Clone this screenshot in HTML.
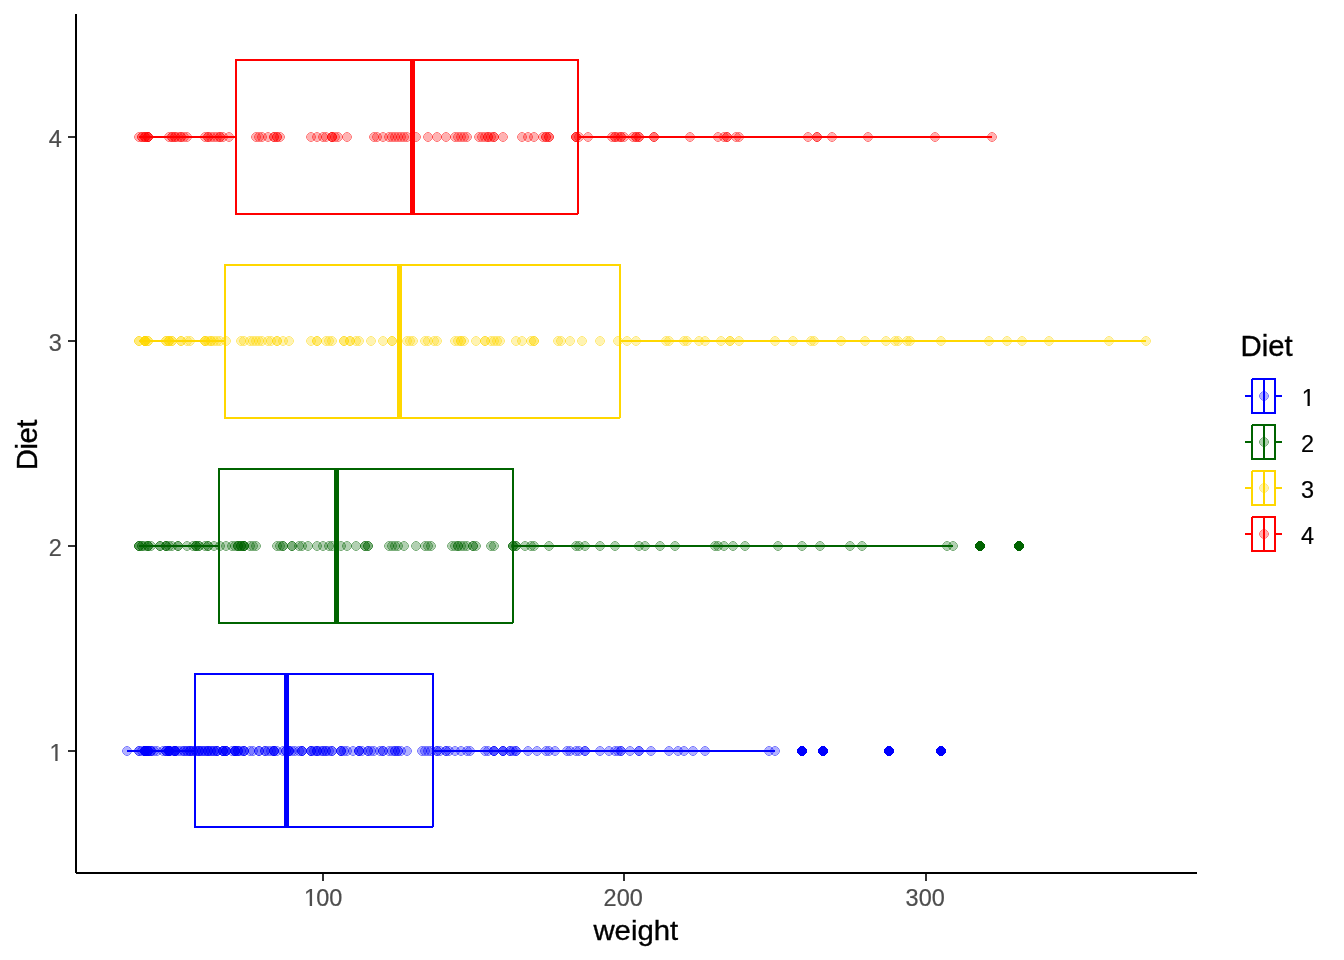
<!DOCTYPE html>
<html lang="en"><head><meta charset="utf-8"><title>ChickWeight boxplot</title>
<style>html,body{margin:0;padding:0;background:#fff}svg{display:block}text{font-family:"Liberation Sans",Arial,sans-serif}.t{font-size:23.47px;fill:#4D4D4D;stroke:#4D4D4D;stroke-width:.2px}.l{font-size:23.47px;fill:#000;stroke:#000;stroke-width:.2px}.h{font-size:29.33px;fill:#000;stroke:#000;stroke-width:.35px}</style></head><body>
<svg width="1344" height="960" viewBox="0 0 1344 960">
<rect width="1344" height="960" fill="#fff"/>
<defs>
<g id="p1" fill="#0000FF" fill-opacity=".3"><path d="M-1,-5h2v1h2v1h1v2h1v2h-1v2h-1v1h-2v1h-2v-1h-2v-1h-1v-2h-1v-2h1v-2h1v-1h2z"/><path fill-rule="evenodd" d="M-2,-5h4v1h1v1h1v1h1v4h-1v1h-1v1h-1v1h-4v-1h-1v-1h-1v-1h-1v-4h1v-1h1v-1h1zM-2,-4h4v1h1v1h1v4h-1v1h-1v1h-4v-1h-1v-1h-1v-4h1v-1h1z"/></g>
<g id="p2" fill="#006400" fill-opacity=".3"><path d="M-1,-5h2v1h2v1h1v2h1v2h-1v2h-1v1h-2v1h-2v-1h-2v-1h-1v-2h-1v-2h1v-2h1v-1h2z"/><path fill-rule="evenodd" d="M-2,-5h4v1h1v1h1v1h1v4h-1v1h-1v1h-1v1h-4v-1h-1v-1h-1v-1h-1v-4h1v-1h1v-1h1zM-2,-4h4v1h1v1h1v4h-1v1h-1v1h-4v-1h-1v-1h-1v-4h1v-1h1z"/></g>
<g id="p3" fill="#FFD700" fill-opacity=".3"><path d="M-1,-5h2v1h2v1h1v2h1v2h-1v2h-1v1h-2v1h-2v-1h-2v-1h-1v-2h-1v-2h1v-2h1v-1h2z"/><path fill-rule="evenodd" d="M-2,-5h4v1h1v1h1v1h1v4h-1v1h-1v1h-1v1h-4v-1h-1v-1h-1v-1h-1v-4h1v-1h1v-1h1zM-2,-4h4v1h1v1h1v4h-1v1h-1v1h-4v-1h-1v-1h-1v-4h1v-1h1z"/></g>
<g id="p4" fill="#FF0000" fill-opacity=".3"><path d="M-1,-5h2v1h2v1h1v2h1v2h-1v2h-1v1h-2v1h-2v-1h-2v-1h-1v-2h-1v-2h1v-2h1v-1h2z"/><path fill-rule="evenodd" d="M-2,-5h4v1h1v1h1v1h1v4h-1v1h-1v1h-1v1h-4v-1h-1v-1h-1v-1h-1v-4h1v-1h1v-1h1zM-2,-4h4v1h1v1h1v4h-1v1h-1v1h-4v-1h-1v-1h-1v-4h1v-1h1z"/></g>
</defs>
<g shape-rendering="crispEdges">
<path transform="translate(889,751)" d="M-2,-5h4v1h1v1h1v1h1v4h-1v1h-1v1h-1v1h-4v-1h-1v-1h-1v-1h-1v-4h1v-1h1v-1h1z" fill="#0000FF"/>
<path transform="translate(941,751)" d="M-2,-5h4v1h1v1h1v1h1v4h-1v1h-1v1h-1v1h-4v-1h-1v-1h-1v-1h-1v-4h1v-1h1v-1h1z" fill="#0000FF"/>
<path transform="translate(802,751)" d="M-2,-5h4v1h1v1h1v1h1v4h-1v1h-1v1h-1v1h-4v-1h-1v-1h-1v-1h-1v-4h1v-1h1v-1h1z" fill="#0000FF"/>
<path transform="translate(823,751)" d="M-2,-5h4v1h1v1h1v1h1v4h-1v1h-1v1h-1v1h-4v-1h-1v-1h-1v-1h-1v-4h1v-1h1v-1h1z" fill="#0000FF"/>
<rect x="127" y="750" width="68" height="2" fill="#0000FF"/>
<rect x="433" y="750" width="342" height="2" fill="#0000FF"/>
<rect x="195" y="674" width="238" height="153" fill="#fff" stroke="#0000FF" stroke-width="2"/>
<rect x="433" y="827" width="1" height="1" fill="#fff"/>
<rect x="284" y="673" width="5" height="155" fill="#0000FF"/>
<path transform="translate(980,546)" d="M-2,-5h4v1h1v1h1v1h1v4h-1v1h-1v1h-1v1h-4v-1h-1v-1h-1v-1h-1v-4h1v-1h1v-1h1z" fill="#006400"/>
<path transform="translate(1019,546)" d="M-2,-5h4v1h1v1h1v1h1v4h-1v1h-1v1h-1v1h-4v-1h-1v-1h-1v-1h-1v-4h1v-1h1v-1h1z" fill="#006400"/>
<rect x="139" y="545" width="80" height="2" fill="#006400"/>
<rect x="513" y="545" width="440" height="2" fill="#006400"/>
<rect x="219" y="469" width="294" height="154" fill="#fff" stroke="#006400" stroke-width="2"/>
<rect x="513" y="623" width="1" height="1" fill="#fff"/>
<rect x="334" y="468" width="5" height="156" fill="#006400"/>
<rect x="139" y="340" width="86" height="2" fill="#FFD700"/>
<rect x="620" y="340" width="526" height="2" fill="#FFD700"/>
<rect x="225" y="265" width="395" height="153" fill="#fff" stroke="#FFD700" stroke-width="2"/>
<rect x="620" y="418" width="1" height="1" fill="#fff"/>
<rect x="397" y="264" width="5" height="155" fill="#FFD700"/>
<rect x="139" y="136" width="97" height="2" fill="#FF0000"/>
<rect x="578" y="136" width="414" height="2" fill="#FF0000"/>
<rect x="236" y="60" width="342" height="154" fill="#fff" stroke="#FF0000" stroke-width="2"/>
<rect x="578" y="214" width="1" height="1" fill="#fff"/>
<rect x="410" y="59" width="5" height="156" fill="#FF0000"/>
</g>
<g shape-rendering="crispEdges">
<use href="#p1" x="148" y="751"/>
<use href="#p1" x="175" y="751"/>
<use href="#p1" x="199" y="751"/>
<use href="#p1" x="214" y="751"/>
<use href="#p1" x="250" y="751"/>
<use href="#p1" x="302" y="751"/>
<use href="#p1" x="341" y="751"/>
<use href="#p1" x="398" y="751"/>
<use href="#p1" x="470" y="751"/>
<use href="#p1" x="537" y="751"/>
<use href="#p1" x="621" y="751"/>
<use href="#p1" x="639" y="751"/>
<use href="#p1" x="142" y="751"/>
<use href="#p1" x="169" y="751"/>
<use href="#p1" x="196" y="751"/>
<use href="#p1" x="238" y="751"/>
<use href="#p1" x="274" y="751"/>
<use href="#p1" x="332" y="751"/>
<use href="#p1" x="389" y="751"/>
<use href="#p1" x="437" y="751"/>
<use href="#p1" x="510" y="751"/>
<use href="#p1" x="585" y="751"/>
<use href="#p1" x="651" y="751"/>
<use href="#p1" x="669" y="751"/>
<use href="#p1" x="151" y="751"/>
<use href="#p1" x="139" y="751"/>
<use href="#p1" x="187" y="751"/>
<use href="#p1" x="223" y="751"/>
<use href="#p1" x="274" y="751"/>
<use href="#p1" x="320" y="751"/>
<use href="#p1" x="368" y="751"/>
<use href="#p1" x="437" y="751"/>
<use href="#p1" x="513" y="751"/>
<use href="#p1" x="585" y="751"/>
<use href="#p1" x="618" y="751"/>
<use href="#p1" x="630" y="751"/>
<use href="#p1" x="148" y="751"/>
<use href="#p1" x="169" y="751"/>
<use href="#p1" x="190" y="751"/>
<use href="#p1" x="223" y="751"/>
<use href="#p1" x="244" y="751"/>
<use href="#p1" x="283" y="751"/>
<use href="#p1" x="329" y="751"/>
<use href="#p1" x="347" y="751"/>
<use href="#p1" x="431" y="751"/>
<use href="#p1" x="485" y="751"/>
<use href="#p1" x="503" y="751"/>
<use href="#p1" x="494" y="751"/>
<use href="#p1" x="145" y="751"/>
<use href="#p1" x="148" y="751"/>
<use href="#p1" x="166" y="751"/>
<use href="#p1" x="202" y="751"/>
<use href="#p1" x="259" y="751"/>
<use href="#p1" x="341" y="751"/>
<use href="#p1" x="446" y="751"/>
<use href="#p1" x="516" y="751"/>
<use href="#p1" x="615" y="751"/>
<use href="#p1" x="621" y="751"/>
<use href="#p1" x="684" y="751"/>
<use href="#p1" x="693" y="751"/>
<use href="#p1" x="145" y="751"/>
<use href="#p1" x="169" y="751"/>
<use href="#p1" x="199" y="751"/>
<use href="#p1" x="244" y="751"/>
<use href="#p1" x="314" y="751"/>
<use href="#p1" x="395" y="751"/>
<use href="#p1" x="446" y="751"/>
<use href="#p1" x="467" y="751"/>
<use href="#p1" x="488" y="751"/>
<use href="#p1" x="503" y="751"/>
<use href="#p1" x="503" y="751"/>
<use href="#p1" x="494" y="751"/>
<use href="#p1" x="145" y="751"/>
<use href="#p1" x="169" y="751"/>
<use href="#p1" x="193" y="751"/>
<use href="#p1" x="235" y="751"/>
<use href="#p1" x="289" y="751"/>
<use href="#p1" x="359" y="751"/>
<use href="#p1" x="461" y="751"/>
<use href="#p1" x="546" y="751"/>
<use href="#p1" x="678" y="751"/>
<use href="#p1" x="775" y="751"/>
<use href="#p1" x="889" y="751"/>
<use href="#p1" x="941" y="751"/>
<use href="#p1" x="148" y="751"/>
<use href="#p1" x="172" y="751"/>
<use href="#p1" x="205" y="751"/>
<use href="#p1" x="235" y="751"/>
<use href="#p1" x="274" y="751"/>
<use href="#p1" x="302" y="751"/>
<use href="#p1" x="353" y="751"/>
<use href="#p1" x="371" y="751"/>
<use href="#p1" x="401" y="751"/>
<use href="#p1" x="425" y="751"/>
<use href="#p1" x="398" y="751"/>
<use href="#p1" x="148" y="751"/>
<use href="#p1" x="175" y="751"/>
<use href="#p1" x="199" y="751"/>
<use href="#p1" x="226" y="751"/>
<use href="#p1" x="277" y="751"/>
<use href="#p1" x="311" y="751"/>
<use href="#p1" x="292" y="751"/>
<use href="#p1" x="299" y="751"/>
<use href="#p1" x="302" y="751"/>
<use href="#p1" x="323" y="751"/>
<use href="#p1" x="323" y="751"/>
<use href="#p1" x="317" y="751"/>
<use href="#p1" x="145" y="751"/>
<use href="#p1" x="154" y="751"/>
<use href="#p1" x="178" y="751"/>
<use href="#p1" x="211" y="751"/>
<use href="#p1" x="244" y="751"/>
<use href="#p1" x="265" y="751"/>
<use href="#p1" x="289" y="751"/>
<use href="#p1" x="311" y="751"/>
<use href="#p1" x="326" y="751"/>
<use href="#p1" x="359" y="751"/>
<use href="#p1" x="383" y="751"/>
<use href="#p1" x="395" y="751"/>
<use href="#p1" x="151" y="751"/>
<use href="#p1" x="175" y="751"/>
<use href="#p1" x="211" y="751"/>
<use href="#p1" x="274" y="751"/>
<use href="#p1" x="359" y="751"/>
<use href="#p1" x="440" y="751"/>
<use href="#p1" x="528" y="751"/>
<use href="#p1" x="555" y="751"/>
<use href="#p1" x="570" y="751"/>
<use href="#p1" x="576" y="751"/>
<use href="#p1" x="567" y="751"/>
<use href="#p1" x="549" y="751"/>
<use href="#p1" x="145" y="751"/>
<use href="#p1" x="169" y="751"/>
<use href="#p1" x="190" y="751"/>
<use href="#p1" x="208" y="751"/>
<use href="#p1" x="238" y="751"/>
<use href="#p1" x="286" y="751"/>
<use href="#p1" x="380" y="751"/>
<use href="#p1" x="428" y="751"/>
<use href="#p1" x="510" y="751"/>
<use href="#p1" x="579" y="751"/>
<use href="#p1" x="609" y="751"/>
<use href="#p1" x="639" y="751"/>
<use href="#p1" x="145" y="751"/>
<use href="#p1" x="166" y="751"/>
<use href="#p1" x="181" y="751"/>
<use href="#p1" x="202" y="751"/>
<use href="#p1" x="217" y="751"/>
<use href="#p1" x="223" y="751"/>
<use href="#p1" x="235" y="751"/>
<use href="#p1" x="232" y="751"/>
<use href="#p1" x="235" y="751"/>
<use href="#p1" x="265" y="751"/>
<use href="#p1" x="295" y="751"/>
<use href="#p1" x="311" y="751"/>
<use href="#p1" x="145" y="751"/>
<use href="#p1" x="169" y="751"/>
<use href="#p1" x="208" y="751"/>
<use href="#p1" x="259" y="751"/>
<use href="#p1" x="326" y="751"/>
<use href="#p1" x="407" y="751"/>
<use href="#p1" x="516" y="751"/>
<use href="#p1" x="600" y="751"/>
<use href="#p1" x="705" y="751"/>
<use href="#p1" x="769" y="751"/>
<use href="#p1" x="802" y="751"/>
<use href="#p1" x="823" y="751"/>
<use href="#p1" x="145" y="751"/>
<use href="#p1" x="169" y="751"/>
<use href="#p1" x="190" y="751"/>
<use href="#p1" x="214" y="751"/>
<use href="#p1" x="226" y="751"/>
<use href="#p1" x="226" y="751"/>
<use href="#p1" x="223" y="751"/>
<use href="#p1" x="226" y="751"/>
<use href="#p1" x="145" y="751"/>
<use href="#p1" x="157" y="751"/>
<use href="#p1" x="169" y="751"/>
<use href="#p1" x="175" y="751"/>
<use href="#p1" x="193" y="751"/>
<use href="#p1" x="175" y="751"/>
<use href="#p1" x="184" y="751"/>
<use href="#p1" x="148" y="751"/>
<use href="#p1" x="175" y="751"/>
<use href="#p1" x="205" y="751"/>
<use href="#p1" x="238" y="751"/>
<use href="#p1" x="271" y="751"/>
<use href="#p1" x="289" y="751"/>
<use href="#p1" x="317" y="751"/>
<use href="#p1" x="332" y="751"/>
<use href="#p1" x="362" y="751"/>
<use href="#p1" x="392" y="751"/>
<use href="#p1" x="422" y="751"/>
<use href="#p1" x="449" y="751"/>
<use href="#p1" x="139" y="751"/>
<use href="#p1" x="127" y="751"/>
<use href="#p1" x="151" y="751"/>
<use href="#p1" x="166" y="751"/>
<use href="#p1" x="187" y="751"/>
<use href="#p1" x="208" y="751"/>
<use href="#p1" x="217" y="751"/>
<use href="#p1" x="235" y="751"/>
<use href="#p1" x="268" y="751"/>
<use href="#p1" x="286" y="751"/>
<use href="#p1" x="341" y="751"/>
<use href="#p1" x="383" y="751"/>
<use href="#p1" x="455" y="751"/>
<use href="#p1" x="494" y="751"/>
<use href="#p1" x="145" y="751"/>
<use href="#p1" x="163" y="751"/>
<use href="#p1" x="184" y="751"/>
<use href="#p1" x="196" y="751"/>
<use href="#p1" x="217" y="751"/>
<use href="#p1" x="241" y="751"/>
<use href="#p1" x="253" y="751"/>
<use href="#p1" x="289" y="751"/>
<use href="#p1" x="317" y="751"/>
<use href="#p1" x="344" y="751"/>
<use href="#p1" x="368" y="751"/>
<use href="#p1" x="374" y="751"/>
<use href="#p2" x="142" y="546"/>
<use href="#p2" x="172" y="546"/>
<use href="#p2" x="208" y="546"/>
<use href="#p2" x="280" y="546"/>
<use href="#p2" x="398" y="546"/>
<use href="#p2" x="513" y="546"/>
<use href="#p2" x="675" y="546"/>
<use href="#p2" x="745" y="546"/>
<use href="#p2" x="850" y="546"/>
<use href="#p2" x="947" y="546"/>
<use href="#p2" x="980" y="546"/>
<use href="#p2" x="1019" y="546"/>
<use href="#p2" x="145" y="546"/>
<use href="#p2" x="187" y="546"/>
<use href="#p2" x="214" y="546"/>
<use href="#p2" x="253" y="546"/>
<use href="#p2" x="292" y="546"/>
<use href="#p2" x="308" y="546"/>
<use href="#p2" x="347" y="546"/>
<use href="#p2" x="356" y="546"/>
<use href="#p2" x="416" y="546"/>
<use href="#p2" x="467" y="546"/>
<use href="#p2" x="516" y="546"/>
<use href="#p2" x="525" y="546"/>
<use href="#p2" x="151" y="546"/>
<use href="#p2" x="178" y="546"/>
<use href="#p2" x="205" y="546"/>
<use href="#p2" x="241" y="546"/>
<use href="#p2" x="292" y="546"/>
<use href="#p2" x="332" y="546"/>
<use href="#p2" x="404" y="546"/>
<use href="#p2" x="428" y="546"/>
<use href="#p2" x="458" y="546"/>
<use href="#p2" x="513" y="546"/>
<use href="#p2" x="534" y="546"/>
<use href="#p2" x="549" y="546"/>
<use href="#p2" x="148" y="546"/>
<use href="#p2" x="178" y="546"/>
<use href="#p2" x="196" y="546"/>
<use href="#p2" x="244" y="546"/>
<use href="#p2" x="220" y="546"/>
<use href="#p2" x="226" y="546"/>
<use href="#p2" x="232" y="546"/>
<use href="#p2" x="235" y="546"/>
<use href="#p2" x="238" y="546"/>
<use href="#p2" x="238" y="546"/>
<use href="#p2" x="250" y="546"/>
<use href="#p2" x="244" y="546"/>
<use href="#p2" x="142" y="546"/>
<use href="#p2" x="169" y="546"/>
<use href="#p2" x="208" y="546"/>
<use href="#p2" x="256" y="546"/>
<use href="#p2" x="329" y="546"/>
<use href="#p2" x="395" y="546"/>
<use href="#p2" x="461" y="546"/>
<use href="#p2" x="516" y="546"/>
<use href="#p2" x="615" y="546"/>
<use href="#p2" x="718" y="546"/>
<use href="#p2" x="802" y="546"/>
<use href="#p2" x="820" y="546"/>
<use href="#p2" x="148" y="546"/>
<use href="#p2" x="166" y="546"/>
<use href="#p2" x="193" y="546"/>
<use href="#p2" x="244" y="546"/>
<use href="#p2" x="302" y="546"/>
<use href="#p2" x="365" y="546"/>
<use href="#p2" x="431" y="546"/>
<use href="#p2" x="464" y="546"/>
<use href="#p2" x="531" y="546"/>
<use href="#p2" x="639" y="546"/>
<use href="#p2" x="733" y="546"/>
<use href="#p2" x="778" y="546"/>
<use href="#p2" x="139" y="546"/>
<use href="#p2" x="160" y="546"/>
<use href="#p2" x="196" y="546"/>
<use href="#p2" x="241" y="546"/>
<use href="#p2" x="283" y="546"/>
<use href="#p2" x="323" y="546"/>
<use href="#p2" x="368" y="546"/>
<use href="#p2" x="392" y="546"/>
<use href="#p2" x="455" y="546"/>
<use href="#p2" x="513" y="546"/>
<use href="#p2" x="579" y="546"/>
<use href="#p2" x="600" y="546"/>
<use href="#p2" x="139" y="546"/>
<use href="#p2" x="160" y="546"/>
<use href="#p2" x="196" y="546"/>
<use href="#p2" x="241" y="546"/>
<use href="#p2" x="299" y="546"/>
<use href="#p2" x="365" y="546"/>
<use href="#p2" x="458" y="546"/>
<use href="#p2" x="491" y="546"/>
<use href="#p2" x="576" y="546"/>
<use href="#p2" x="645" y="546"/>
<use href="#p2" x="660" y="546"/>
<use href="#p2" x="724" y="546"/>
<use href="#p2" x="139" y="546"/>
<use href="#p2" x="166" y="546"/>
<use href="#p2" x="199" y="546"/>
<use href="#p2" x="244" y="546"/>
<use href="#p2" x="283" y="546"/>
<use href="#p2" x="341" y="546"/>
<use href="#p2" x="425" y="546"/>
<use href="#p2" x="473" y="546"/>
<use href="#p2" x="585" y="546"/>
<use href="#p2" x="715" y="546"/>
<use href="#p2" x="862" y="546"/>
<use href="#p2" x="953" y="546"/>
<use href="#p2" x="148" y="546"/>
<use href="#p2" x="166" y="546"/>
<use href="#p2" x="199" y="546"/>
<use href="#p2" x="238" y="546"/>
<use href="#p2" x="277" y="546"/>
<use href="#p2" x="317" y="546"/>
<use href="#p2" x="368" y="546"/>
<use href="#p2" x="389" y="546"/>
<use href="#p2" x="452" y="546"/>
<use href="#p2" x="476" y="546"/>
<use href="#p2" x="494" y="546"/>
<use href="#p2" x="473" y="546"/>
<use href="#p3" x="148" y="341"/>
<use href="#p3" x="181" y="341"/>
<use href="#p3" x="208" y="341"/>
<use href="#p3" x="241" y="341"/>
<use href="#p3" x="277" y="341"/>
<use href="#p3" x="329" y="341"/>
<use href="#p3" x="392" y="341"/>
<use href="#p3" x="437" y="341"/>
<use href="#p3" x="534" y="341"/>
<use href="#p3" x="636" y="341"/>
<use href="#p3" x="730" y="341"/>
<use href="#p3" x="793" y="341"/>
<use href="#p3" x="145" y="341"/>
<use href="#p3" x="169" y="341"/>
<use href="#p3" x="217" y="341"/>
<use href="#p3" x="268" y="341"/>
<use href="#p3" x="344" y="341"/>
<use href="#p3" x="410" y="341"/>
<use href="#p3" x="500" y="341"/>
<use href="#p3" x="561" y="341"/>
<use href="#p3" x="687" y="341"/>
<use href="#p3" x="814" y="341"/>
<use href="#p3" x="898" y="341"/>
<use href="#p3" x="941" y="341"/>
<use href="#p3" x="139" y="341"/>
<use href="#p3" x="172" y="341"/>
<use href="#p3" x="211" y="341"/>
<use href="#p3" x="253" y="341"/>
<use href="#p3" x="311" y="341"/>
<use href="#p3" x="356" y="341"/>
<use href="#p3" x="434" y="341"/>
<use href="#p3" x="455" y="341"/>
<use href="#p3" x="476" y="341"/>
<use href="#p3" x="461" y="341"/>
<use href="#p3" x="491" y="341"/>
<use href="#p3" x="464" y="341"/>
<use href="#p3" x="145" y="341"/>
<use href="#p3" x="169" y="341"/>
<use href="#p3" x="211" y="341"/>
<use href="#p3" x="277" y="341"/>
<use href="#p3" x="344" y="341"/>
<use href="#p3" x="425" y="341"/>
<use href="#p3" x="516" y="341"/>
<use href="#p3" x="582" y="341"/>
<use href="#p3" x="730" y="341"/>
<use href="#p3" x="907" y="341"/>
<use href="#p3" x="1007" y="341"/>
<use href="#p3" x="1049" y="341"/>
<use href="#p3" x="145" y="341"/>
<use href="#p3" x="181" y="341"/>
<use href="#p3" x="214" y="341"/>
<use href="#p3" x="283" y="341"/>
<use href="#p3" x="392" y="341"/>
<use href="#p3" x="497" y="341"/>
<use href="#p3" x="627" y="341"/>
<use href="#p3" x="739" y="341"/>
<use href="#p3" x="886" y="341"/>
<use href="#p3" x="1022" y="341"/>
<use href="#p3" x="1109" y="341"/>
<use href="#p3" x="1146" y="341"/>
<use href="#p3" x="139" y="341"/>
<use href="#p3" x="166" y="341"/>
<use href="#p3" x="205" y="341"/>
<use href="#p3" x="250" y="341"/>
<use href="#p3" x="317" y="341"/>
<use href="#p3" x="371" y="341"/>
<use href="#p3" x="458" y="341"/>
<use href="#p3" x="522" y="341"/>
<use href="#p3" x="618" y="341"/>
<use href="#p3" x="705" y="341"/>
<use href="#p3" x="699" y="341"/>
<use href="#p3" x="684" y="341"/>
<use href="#p3" x="145" y="341"/>
<use href="#p3" x="166" y="341"/>
<use href="#p3" x="190" y="341"/>
<use href="#p3" x="226" y="341"/>
<use href="#p3" x="262" y="341"/>
<use href="#p3" x="271" y="341"/>
<use href="#p3" x="332" y="341"/>
<use href="#p3" x="359" y="341"/>
<use href="#p3" x="428" y="341"/>
<use href="#p3" x="494" y="341"/>
<use href="#p3" x="531" y="341"/>
<use href="#p3" x="558" y="341"/>
<use href="#p3" x="145" y="341"/>
<use href="#p3" x="169" y="341"/>
<use href="#p3" x="205" y="341"/>
<use href="#p3" x="244" y="341"/>
<use href="#p3" x="317" y="341"/>
<use href="#p3" x="350" y="341"/>
<use href="#p3" x="407" y="341"/>
<use href="#p3" x="485" y="341"/>
<use href="#p3" x="600" y="341"/>
<use href="#p3" x="721" y="341"/>
<use href="#p3" x="865" y="341"/>
<use href="#p3" x="895" y="341"/>
<use href="#p3" x="148" y="341"/>
<use href="#p3" x="172" y="341"/>
<use href="#p3" x="205" y="341"/>
<use href="#p3" x="256" y="341"/>
<use href="#p3" x="289" y="341"/>
<use href="#p3" x="350" y="341"/>
<use href="#p3" x="413" y="341"/>
<use href="#p3" x="461" y="341"/>
<use href="#p3" x="534" y="341"/>
<use href="#p3" x="666" y="341"/>
<use href="#p3" x="775" y="341"/>
<use href="#p3" x="841" y="341"/>
<use href="#p3" x="145" y="341"/>
<use href="#p3" x="187" y="341"/>
<use href="#p3" x="220" y="341"/>
<use href="#p3" x="259" y="341"/>
<use href="#p3" x="326" y="341"/>
<use href="#p3" x="383" y="341"/>
<use href="#p3" x="485" y="341"/>
<use href="#p3" x="570" y="341"/>
<use href="#p3" x="669" y="341"/>
<use href="#p3" x="811" y="341"/>
<use href="#p3" x="910" y="341"/>
<use href="#p3" x="989" y="341"/>
<use href="#p4" x="148" y="137"/>
<use href="#p4" x="175" y="137"/>
<use href="#p4" x="220" y="137"/>
<use href="#p4" x="277" y="137"/>
<use href="#p4" x="332" y="137"/>
<use href="#p4" x="395" y="137"/>
<use href="#p4" x="488" y="137"/>
<use href="#p4" x="482" y="137"/>
<use href="#p4" x="549" y="137"/>
<use href="#p4" x="576" y="137"/>
<use href="#p4" x="621" y="137"/>
<use href="#p4" x="636" y="137"/>
<use href="#p4" x="148" y="137"/>
<use href="#p4" x="169" y="137"/>
<use href="#p4" x="211" y="137"/>
<use href="#p4" x="274" y="137"/>
<use href="#p4" x="332" y="137"/>
<use href="#p4" x="401" y="137"/>
<use href="#p4" x="503" y="137"/>
<use href="#p4" x="546" y="137"/>
<use href="#p4" x="636" y="137"/>
<use href="#p4" x="727" y="137"/>
<use href="#p4" x="832" y="137"/>
<use href="#p4" x="868" y="137"/>
<use href="#p4" x="148" y="137"/>
<use href="#p4" x="187" y="137"/>
<use href="#p4" x="229" y="137"/>
<use href="#p4" x="311" y="137"/>
<use href="#p4" x="416" y="137"/>
<use href="#p4" x="494" y="137"/>
<use href="#p4" x="576" y="137"/>
<use href="#p4" x="588" y="137"/>
<use href="#p4" x="615" y="137"/>
<use href="#p4" x="618" y="137"/>
<use href="#p4" x="621" y="137"/>
<use href="#p4" x="624" y="137"/>
<use href="#p4" x="148" y="137"/>
<use href="#p4" x="175" y="137"/>
<use href="#p4" x="217" y="137"/>
<use href="#p4" x="280" y="137"/>
<use href="#p4" x="332" y="137"/>
<use href="#p4" x="377" y="137"/>
<use href="#p4" x="404" y="137"/>
<use href="#p4" x="437" y="137"/>
<use href="#p4" x="458" y="137"/>
<use href="#p4" x="461" y="137"/>
<use href="#p4" x="145" y="137"/>
<use href="#p4" x="172" y="137"/>
<use href="#p4" x="205" y="137"/>
<use href="#p4" x="256" y="137"/>
<use href="#p4" x="317" y="137"/>
<use href="#p4" x="374" y="137"/>
<use href="#p4" x="428" y="137"/>
<use href="#p4" x="446" y="137"/>
<use href="#p4" x="464" y="137"/>
<use href="#p4" x="546" y="137"/>
<use href="#p4" x="615" y="137"/>
<use href="#p4" x="612" y="137"/>
<use href="#p4" x="142" y="137"/>
<use href="#p4" x="178" y="137"/>
<use href="#p4" x="208" y="137"/>
<use href="#p4" x="268" y="137"/>
<use href="#p4" x="326" y="137"/>
<use href="#p4" x="383" y="137"/>
<use href="#p4" x="455" y="137"/>
<use href="#p4" x="491" y="137"/>
<use href="#p4" x="543" y="137"/>
<use href="#p4" x="654" y="137"/>
<use href="#p4" x="718" y="137"/>
<use href="#p4" x="739" y="137"/>
<use href="#p4" x="145" y="137"/>
<use href="#p4" x="181" y="137"/>
<use href="#p4" x="220" y="137"/>
<use href="#p4" x="259" y="137"/>
<use href="#p4" x="323" y="137"/>
<use href="#p4" x="392" y="137"/>
<use href="#p4" x="467" y="137"/>
<use href="#p4" x="494" y="137"/>
<use href="#p4" x="528" y="137"/>
<use href="#p4" x="579" y="137"/>
<use href="#p4" x="654" y="137"/>
<use href="#p4" x="639" y="137"/>
<use href="#p4" x="139" y="137"/>
<use href="#p4" x="172" y="137"/>
<use href="#p4" x="208" y="137"/>
<use href="#p4" x="262" y="137"/>
<use href="#p4" x="335" y="137"/>
<use href="#p4" x="398" y="137"/>
<use href="#p4" x="485" y="137"/>
<use href="#p4" x="534" y="137"/>
<use href="#p4" x="690" y="137"/>
<use href="#p4" x="808" y="137"/>
<use href="#p4" x="935" y="137"/>
<use href="#p4" x="992" y="137"/>
<use href="#p4" x="142" y="137"/>
<use href="#p4" x="181" y="137"/>
<use href="#p4" x="214" y="137"/>
<use href="#p4" x="277" y="137"/>
<use href="#p4" x="347" y="137"/>
<use href="#p4" x="407" y="137"/>
<use href="#p4" x="479" y="137"/>
<use href="#p4" x="522" y="137"/>
<use href="#p4" x="576" y="137"/>
<use href="#p4" x="633" y="137"/>
<use href="#p4" x="724" y="137"/>
<use href="#p4" x="736" y="137"/>
<use href="#p4" x="145" y="137"/>
<use href="#p4" x="184" y="137"/>
<use href="#p4" x="223" y="137"/>
<use href="#p4" x="274" y="137"/>
<use href="#p4" x="338" y="137"/>
<use href="#p4" x="389" y="137"/>
<use href="#p4" x="488" y="137"/>
<use href="#p4" x="549" y="137"/>
<use href="#p4" x="639" y="137"/>
<use href="#p4" x="727" y="137"/>
<use href="#p4" x="817" y="137"/>
<use href="#p4" x="817" y="137"/>
</g>
<g shape-rendering="crispEdges" fill="#000">
<rect x="75" y="14" width="2" height="859"/>
<rect x="76" y="872" width="1121" height="2"/>
</g><g shape-rendering="crispEdges" fill="#333">
<rect x="68" y="750" width="7" height="2"/>
<rect x="68" y="545" width="7" height="2"/>
<rect x="68" y="340" width="7" height="2"/>
<rect x="68" y="136" width="7" height="2"/>
<rect x="322" y="874" width="2" height="7"/>
<rect x="623" y="874" width="2" height="7"/>
<rect x="925" y="874" width="2" height="7"/>
</g>
<text class="t" x="62.6" y="761" text-anchor="end">1</text>
<text class="t" x="61.7" y="556" text-anchor="end">2</text>
<text class="t" x="61.7" y="351" text-anchor="end">3</text>
<text class="t" x="61.7" y="147" text-anchor="end">4</text>
<text class="t" x="322.2" y="906" text-anchor="middle"><tspan dx="1">1</tspan><tspan dx="-1">00</tspan></text>
<text class="t" x="623.2" y="906" text-anchor="middle">200</text>
<text class="t" x="925.2" y="906" text-anchor="middle">300</text>
<text class="h" transform="translate(635.8,939.8) scale(1,.95)" text-anchor="middle">weight</text>
<text class="h" transform="translate(37.1,470.3) rotate(-90)" letter-spacing="-0.45">Diet</text>
<text class="h" x="1240.6" y="355.9">Diet</text>
<g shape-rendering="crispEdges">
<rect x="1245" y="395" width="7" height="2" fill="#0000FF"/>
<rect x="1275" y="395" width="7" height="2" fill="#0000FF"/>
<rect x="1252" y="379" width="23" height="34" fill="#fff" stroke="#0000FF" stroke-width="2"/>
<rect x="1251" y="378" width="1" height="1" fill="#fff"/>
<rect x="1263" y="379" width="2" height="34" fill="#0000FF"/>
<use href="#p1" x="1264" y="396"/>
</g>
<text class="l" x="1301.8" y="405.8">1</text>
<g shape-rendering="crispEdges">
<rect x="1245" y="441" width="7" height="2" fill="#006400"/>
<rect x="1275" y="441" width="7" height="2" fill="#006400"/>
<rect x="1252" y="425" width="23" height="34" fill="#fff" stroke="#006400" stroke-width="2"/>
<rect x="1251" y="424" width="1" height="1" fill="#fff"/>
<rect x="1263" y="425" width="2" height="34" fill="#006400"/>
<use href="#p2" x="1264" y="442"/>
</g>
<text class="l" x="1301" y="451.8">2</text>
<g shape-rendering="crispEdges">
<rect x="1245" y="487" width="7" height="2" fill="#FFD700"/>
<rect x="1275" y="487" width="7" height="2" fill="#FFD700"/>
<rect x="1252" y="471" width="23" height="34" fill="#fff" stroke="#FFD700" stroke-width="2"/>
<rect x="1251" y="470" width="1" height="1" fill="#fff"/>
<rect x="1263" y="471" width="2" height="34" fill="#FFD700"/>
<use href="#p3" x="1264" y="488"/>
</g>
<text class="l" x="1301" y="497.8">3</text>
<g shape-rendering="crispEdges">
<rect x="1245" y="533" width="7" height="2" fill="#FF0000"/>
<rect x="1275" y="533" width="7" height="2" fill="#FF0000"/>
<rect x="1252" y="517" width="23" height="34" fill="#fff" stroke="#FF0000" stroke-width="2"/>
<rect x="1251" y="516" width="1" height="1" fill="#fff"/>
<rect x="1263" y="517" width="2" height="34" fill="#FF0000"/>
<use href="#p4" x="1264" y="534"/>
</g>
<text class="l" x="1301" y="543.8">4</text>
<g fill="#fff" shape-rendering="crispEdges">
<rect x="51" y="759" width="4" height="2"/>
<rect x="58" y="759" width="4" height="2"/>
<rect x="55" y="759" width="1" height="1" fill-opacity="0.248"/>
<rect x="55" y="760" width="1" height="1" fill-opacity="0.303"/>
<rect x="57" y="759" width="1" height="1" fill-opacity="0.348"/>
<rect x="57" y="760" width="1" height="1" fill-opacity="0.41"/>
<rect x="305" y="904" width="4" height="2"/>
<rect x="313" y="904" width="3" height="2"/>
<rect x="309" y="904" width="1" height="1" fill-opacity="0.656"/>
<rect x="309" y="905" width="1" height="1" fill-opacity="0.708"/>
<rect x="312" y="904" width="1" height="1" fill-opacity="0.912"/>
<rect x="312" y="905" width="1" height="1" fill-opacity="0.927"/>
<rect x="1303" y="404" width="4" height="2"/>
<rect x="1310" y="404" width="4" height="2"/>
<rect x="1307" y="404" width="1" height="1" fill-opacity="0.442"/>
<rect x="1307" y="405" width="1" height="1" fill-opacity="0.525"/>
<rect x="1309" y="404" width="1" height="1" fill-opacity="0.174"/>
<rect x="1309" y="405" width="1" height="1" fill-opacity="0.235"/>
</g>
</svg></body></html>
